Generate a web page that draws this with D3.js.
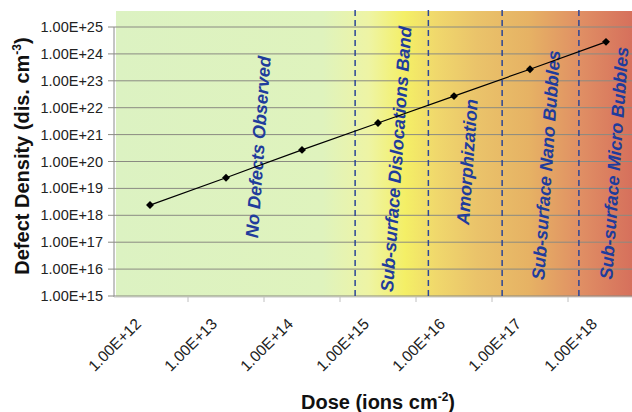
<!DOCTYPE html>
<html>
<head>
<meta charset="utf-8">
<script src="https://cdn.jsdelivr.net/npm/d3@7"></script>
<style>
body { margin: 0; background: white; }
text { font-family: "Liberation Sans", Arial, sans-serif; }
</style>
</head>
<body>
<script>
// data
var doses = [1e12, 1e13, 1e14, 1e15, 1e16, 1e17, 1e18];
var densities = [2.4e18, 2.5e19, 2.7e20, 2.7e21, 2.7e22, 2.7e23, 2.8e24];
var yTicks = [1e15, 1e16, 1e17, 1e18, 1e19, 1e20, 1e21, 1e22, 1e23, 1e24, 1e25];
var boundaries = [5e14, 4.6e15, 4.3e16, 4.4e17];
var regions = ['No Defects Observed', 'Sub-surface Dislocations Band', 'Amorphization',
    'Sub-surface Nano Bubbles', 'Sub-surface Micro Bubbles'];

// label layout (pixels)
var regionLabelX = [258, 396, 467, 546, 614];
var regionLabelY = [147, 159, 162, 165, 163];

var fmt = function(v){ return '1.00E+' + Math.round(Math.log10(v)); };

var svg = d3.select('body').append('svg').attr('width', 632).attr('height', 412);

var x = d3.scaleLog().domain([1e12, 1e18]).range([150, 606]);
var y = d3.scaleLog().domain([1e15, 1e25]).range([296, 27]);

// background gradient
var grad = svg.append('defs').append('linearGradient').attr('id', 'bg')
    .attr('x1', '0%').attr('x2', '100%').attr('y1', '0%').attr('y2', '0%');
var stops = [[0, '#dcf2c2'], [0.4, '#dff3bd'], [0.49, '#eef4a4'], [0.56, '#f4ef66'],
    [0.62, '#f0d86c'], [0.7, '#eac36a'], [0.8, '#e6b264'], [0.9, '#e08f64'], [1, '#d6705c']];
stops.forEach(function(s){
    grad.append('stop').attr('offset', s[0]).attr('stop-color', s[1]);
});
svg.append('rect').attr('x', 116).attr('y', 11).attr('width', 516).attr('height', 286)
    .attr('fill', 'url(#bg)');

// gridlines + y axis
svg.selectAll('.grid').data(yTicks).enter().append('line')
    .attr('x1', 108).attr('x2', 632)
    .attr('y1', function(d){ return y(d); }).attr('y2', function(d){ return y(d); })
    .attr('stroke', '#8a8a82').attr('stroke-width', 1);
svg.append('line').attr('x1', 114).attr('x2', 114).attr('y1', y(1e25)).attr('y2', 297)
    .attr('stroke', '#8a8a8a');
svg.selectAll('.ylab').data(yTicks).enter().append('text')
    .attr('x', 103).attr('y', function(d){ return y(d); })
    .attr('dy', '0.35em').attr('text-anchor', 'end')
    .attr('font-size', 14.5).attr('fill', '#222').text(fmt);

// x axis ticks (category borders)
var xBorders = doses.slice(1).map(function(d){ return d / Math.sqrt(10); });
svg.append('line').attr('x1', 114).attr('x2', 632).attr('y1', 297).attr('y2', 297)
    .attr('stroke', '#c8c8c8');
svg.selectAll('.xtick').data(xBorders).enter().append('line')
    .attr('x1', function(d){ return x(d); }).attr('x2', function(d){ return x(d); })
    .attr('y1', 297).attr('y2', 302).attr('stroke', '#c0c0c0');
svg.selectAll('.xlab').data(doses).enter().append('text')
    .attr('transform', function(d){ return 'translate(' + (x(d) - 8) + ',325) rotate(-45)'; })
    .attr('text-anchor', 'end').attr('font-size', 15.5).attr('fill', '#222').text(fmt);

// region boundaries
svg.selectAll('.bound').data(boundaries).enter().append('line')
    .attr('x1', function(d){ return x(d); }).attr('x2', function(d){ return x(d); })
    .attr('y1', 10).attr('y2', 299)
    .attr('stroke', '#2b4596').attr('stroke-width', 1.5).attr('stroke-dasharray', '6,4');

// region names
svg.selectAll('.region').data(regions).enter().append('text')
    .attr('transform', function(d, i){
        return 'translate(' + regionLabelX[i] + ',' + regionLabelY[i] + ') rotate(-86)';
    })
    .attr('text-anchor', 'middle').attr('dy', '0.35em')
    .attr('font-size', 18).attr('font-weight', 'bold').attr('font-style', 'italic')
    .attr('fill', '#1f3c9c').text(function(d){ return d; });

// data line + diamonds
var pts = doses.map(function(d, i){ return [x(d), y(densities[i])]; });
svg.append('path').attr('d', d3.line()(pts)).attr('fill', 'none')
    .attr('stroke', 'black').attr('stroke-width', 1.2);
svg.selectAll('.pt').data(pts).enter().append('path')
    .attr('d', d3.symbol().type(d3.symbolDiamond2).size(40))
    .attr('transform', function(d){ return 'translate(' + d[0] + ',' + d[1] + ')'; })
    .attr('fill', 'black');

// axis titles
var xt = svg.append('text').attr('x', 378).attr('y', 409).attr('text-anchor', 'middle')
    .attr('font-size', 20).attr('font-weight', 'bold').attr('fill', '#111');
xt.append('tspan').text('Dose (ions cm');
xt.append('tspan').attr('font-size', 12).attr('dy', -8).text('-2');
xt.append('tspan').attr('dy', 8).text(')');

var yt = svg.append('text').attr('transform', 'translate(29,156) rotate(-90)')
    .attr('text-anchor', 'middle')
    .attr('font-size', 20).attr('font-weight', 'bold').attr('fill', '#111');
yt.append('tspan').text('Defect Density (dis. cm');
yt.append('tspan').attr('font-size', 12).attr('dy', -8).text('-3');
yt.append('tspan').attr('dy', 8).text(')');
</script>
</body>
</html>
